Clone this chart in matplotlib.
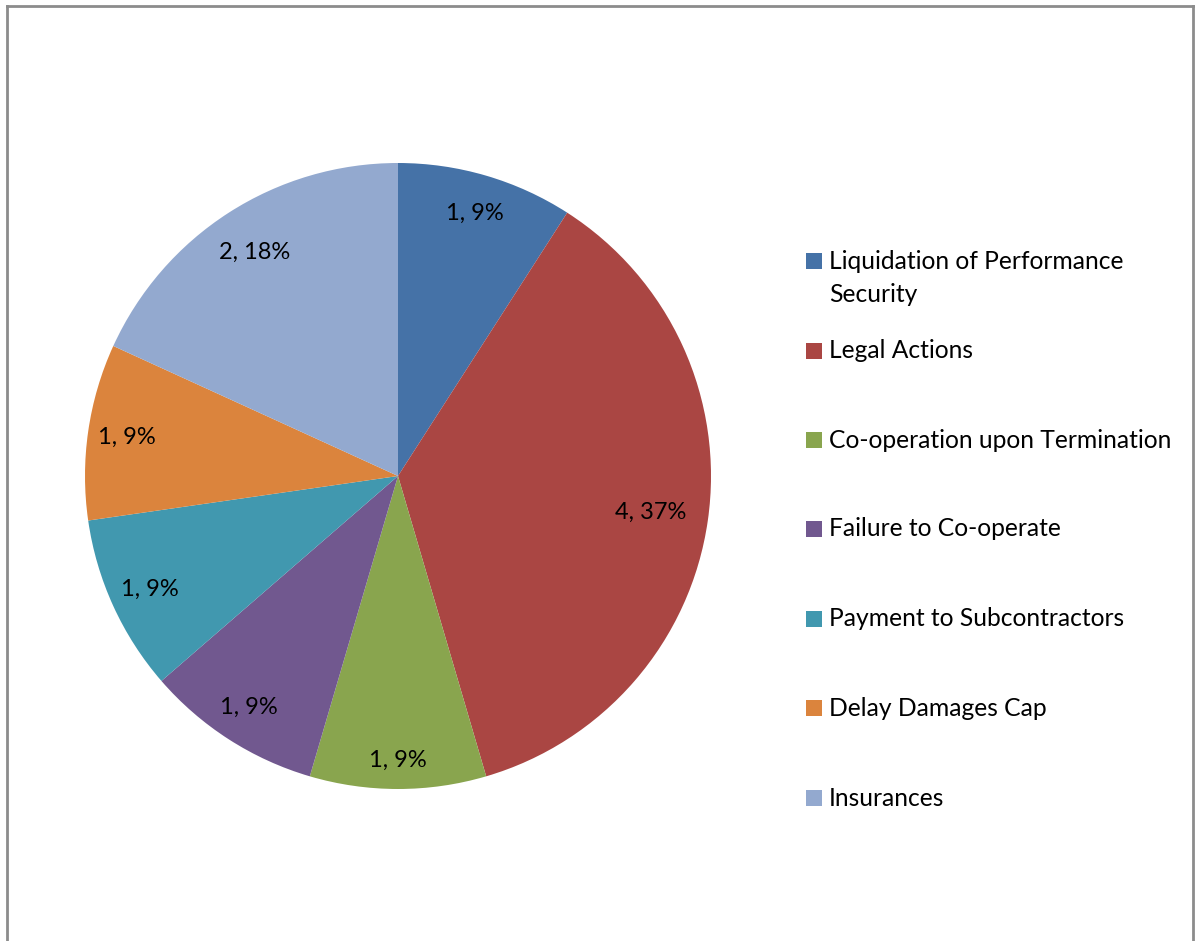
import matplotlib.pyplot as plt
from matplotlib.patches import Rectangle
from matplotlib.lines import Line2D
import numpy as np

categories = ['Liquidation of Performance\nSecurity', 'Legal Actions',
              'Co-operation upon Termination', 'Failure to Co-operate',
              'Payment to Subcontractors', 'Delay Damages Cap', 'Insurances']
counts = [1, 4, 1, 1, 1, 1, 2]
percents = [9, 37, 9, 9, 9, 9, 18]
colors = ['#4572A7', '#AA4643', '#89A54E', '#71588F', '#4198AF', '#DB843D', '#93A9CF']
label_radius = [0.875, 0.815, 0.91, 0.88, 0.87, 0.875, 0.85]

plt.rcParams['font.family'] = ['Lato', 'DejaVu Sans']

W, H = 1195, 941
fig = plt.figure(figsize=(W / 100, H / 100), dpi=100)

# chart frame (bottom edge is off the picture)
for xs, ys in [([7, 7], [0, 935]), ([7, 1193], [935, 935]), ([1193, 1193], [0, 935])]:
    fig.add_artist(Line2D(np.array(xs) / W, np.array(ys) / H, color='#8c8c8c', lw=2,
                          transform=fig.transFigure))

cx, cy, r = 398, H - 476, 313
ax = fig.add_axes([(cx - r) / W, (cy - r) / H, 2 * r / W, 2 * r / H])
wedges, _ = ax.pie(counts, colors=colors, startangle=90, counterclock=False,
                   wedgeprops=dict(linewidth=0))
ax.set_xlim(-1, 1)
ax.set_ylim(-1, 1)
ax.set_aspect('equal')
ax.axis('off')

for w, n, p, rr in zip(wedges, counts, percents, label_radius):
    a = np.deg2rad((w.theta1 + w.theta2) / 2)
    ax.text(rr * np.cos(a), rr * np.sin(a), f'{n}, {p}%', ha='center', va='center',
            fontsize=17, color='black')

# legend
row_y = [278, 351, 440, 529, 619, 708, 798]
for label, c, y in zip(categories, colors, row_y):
    first_y = y - 17 if '\n' in label else y
    fig.add_artist(Rectangle((806 / W, (H - first_y - 8) / H), 16 / W, 16 / H,
                             facecolor=c, edgecolor='none', transform=fig.transFigure))
    fig.text(829 / W, (H - y) / H, label, ha='left', va='center', fontsize=17.7,
             linespacing=1.5)

fig.savefig('out.png', dpi=100)
